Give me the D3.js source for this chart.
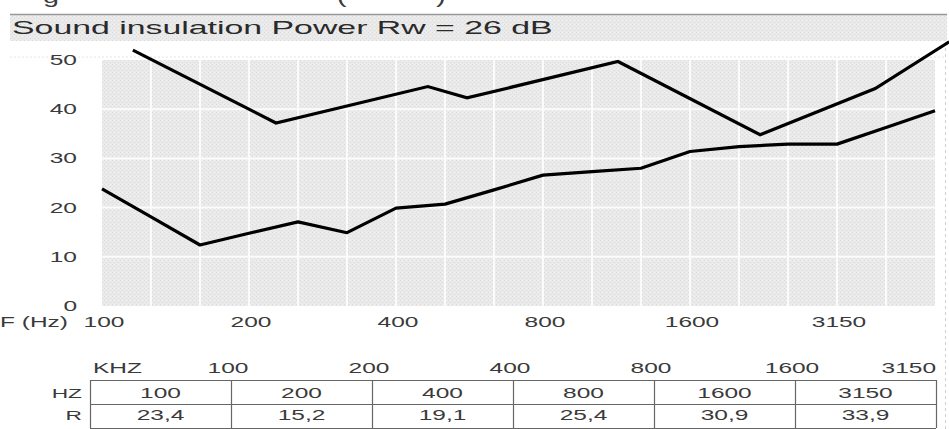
<!DOCTYPE html>
<html>
<head>
<meta charset="utf-8">
<script src="https://cdn.jsdelivr.net/npm/d3@7"></script>
<style>
  body { margin: 0; background: #fff; }
  text { font-family: "Liberation Sans", Arial, sans-serif; fill: #3a3a3a; }
</style>
</head>
<body>
<div id="chart"></div>
<script>
// third-octave bands, measured curve
const bands = [100, 125, 160, 200, 250, 315, 400, 500, 630, 800, 1000, 1250, 1600, 2000, 2500, 3150, 4000, 5000];
const measured = [23.8, 18.1, 12.4, 14.8, 17.1, 14.9, 19.9, 20.7, 23.6, 26.6, 27.3, 28.0, 31.4, 32.4, 32.9, 32.9, 36.3, 39.7];

// overlay curve (position in band steps, dB)
const upperPos = [0.63, 3.55, 6.65, 7.45, 10.53, 13.43, 15.78, 17.29];
const upperVal = [52.0, 37.2, 44.6, 42.3, 49.7, 34.8, 44.2, 53.7];

const yTicks = [0, 10, 20, 30, 40, 50];
const xTickLabels = ["100", "200", "400", "800", "1600", "3150"];

// table below the chart
const tableHead = ["100", "200", "400", "800", "1600", "3150"];
const tableHz = ["100", "200", "400", "800", "1600", "3150"];
const tableR = ["23,4", "15,2", "19,1", "25,4", "30,9", "33,9"];

const title = "Sound insulation Power Rw = 26 dB";

const width = 949, height = 429;
const svg = d3.select("#chart").append("svg")
  .attr("width", width)
  .attr("height", height);

// stippled grey fill
const defs = svg.append("defs");
const pat = defs.append("pattern")
  .attr("id", "stip")
  .attr("width", 4).attr("height", 4)
  .attr("patternUnits", "userSpaceOnUse");
pat.append("rect").attr("width", 4).attr("height", 4).attr("fill", "#eaeaea");
pat.append("rect").attr("x", 0).attr("y", 0).attr("width", 1).attr("height", 1).attr("fill", "#dbdbdb");
pat.append("rect").attr("x", 2).attr("y", 2).attr("width", 1).attr("height", 1).attr("fill", "#dbdbdb");
pat.append("rect").attr("x", 2).attr("y", 0).attr("width", 1).attr("height", 1).attr("fill", "#f2f2f2");

// stretched text helper (the source is squashed wide)
function label(x, y, txt, anchor, size, sx) {
  return svg.append("text")
    .attr("transform", `translate(${x},${y}) scale(${sx},1)`)
    .attr("text-anchor", anchor)
    .style("font-size", size + "px")
    .text(txt);
}

// cut-off line at top of image (only descenders visible in the source)
label(43, 3, "g", "start", 18, 1.6);
label(337, 3, "(", "start", 18, 1.6);
label(436, 3, ")", "start", 18, 1.6);

// title bar
svg.append("rect")
  .attr("x", 10).attr("y", 14)
  .attr("width", 937).attr("height", 27)
  .attr("fill", "url(#stip)");
svg.append("line")
  .attr("x1", 10).attr("x2", 947)
  .attr("y1", 14.5).attr("y2", 14.5)
  .style("stroke", "#999").style("stroke-width", 1.5);
label(12, 34, title, "start", 18, 1.88).style("fill", "#2a2a2a");

// faint dotted guides
svg.append("line")
  .attr("x1", 10).attr("x2", 945).attr("y1", 57).attr("y2", 57)
  .style("stroke", "#e4e4e4").style("stroke-dasharray", "2,2");
svg.append("line")
  .attr("x1", 945.5).attr("x2", 945.5).attr("y1", 42).attr("y2", height)
  .style("stroke", "#cfcfcf").style("stroke-dasharray", "3,3");

// scales
const x = d3.scaleLinear().domain([0, bands.length - 1]).range([102, 935]);
const y = d3.scaleLinear().domain([0, 50]).range([306, 60]);

// plot background
svg.append("rect")
  .attr("x", x(0)).attr("y", y(50))
  .attr("width", x(bands.length - 1) - x(0))
  .attr("height", y(0) - y(50))
  .attr("fill", "url(#stip)");

// grid
svg.append("g").selectAll("line")
  .data(bands.slice(1, -1))
  .join("line")
  .attr("x1", (d, i) => x(i + 1)).attr("x2", (d, i) => x(i + 1))
  .attr("y1", y(50)).attr("y2", y(0))
  .style("stroke", "#fbfbfb").style("stroke-width", 2);

svg.append("g").selectAll("line")
  .data(yTicks.slice(1, -1))
  .join("line")
  .attr("x1", x(0)).attr("x2", x(bands.length - 1))
  .attr("y1", d => y(d)).attr("y2", d => y(d))
  .style("stroke", "#fbfbfb").style("stroke-width", 2);

// y labels
yTicks.forEach(t => {
  label(77, y(t) + 5, String(t), "end", 14, 1.75);
});

// x labels
label(0, 327, "F (Hz)", "start", 14, 1.75);
xTickLabels.forEach((t, i) => {
  label(x(i * 3) + 2, 327, t, "middle", 14, 1.75);
});

// curves
const line = d3.line()
  .x(d => x(d[0]))
  .y(d => y(d[1]));

svg.append("path")
  .datum(measured.map((v, i) => [i, v]))
  .attr("d", line)
  .style("fill", "none")
  .style("stroke", "#000")
  .style("stroke-width", 3.2)
  .style("stroke-linejoin", "round");

svg.append("path")
  .datum(upperVal.map((v, i) => [upperPos[i], v]))
  .attr("d", line)
  .style("fill", "none")
  .style("stroke", "#000")
  .style("stroke-width", 3.2);

// table
const col = d3.scaleLinear().domain([0, tableHz.length]).range([90, 936]);
const rowTop = 380, rowMid = 404, rowBot = 428;

label(93, 373, "KHZ", "start", 14, 1.75);
tableHead.forEach((t, i) => {
  if (i < tableHead.length - 1) label(col(i + 1) - 3, 373, t, "middle", 14, 1.75);
  else label(col(i + 1), 373, t, "end", 14, 1.75);
});

const tg = svg.append("g").style("stroke", "#666").style("stroke-width", 1.2);
[rowTop, rowMid, rowBot].forEach(yy => {
  tg.append("line").attr("x1", col(0)).attr("x2", col(tableHz.length))
    .attr("y1", yy + 0.5).attr("y2", yy + 0.5);
});
d3.range(tableHz.length + 1).forEach(i => {
  tg.append("line").attr("x1", col(i) + 0.5).attr("x2", col(i) + 0.5)
    .attr("y1", rowTop).attr("y2", rowBot);
});

label(82, 398, "HZ", "end", 13, 1.75);
label(82, 420, "R", "end", 13, 1.75);
tableHz.forEach((t, i) => {
  label((col(i) + col(i + 1)) / 2, 398, t, "middle", 14, 1.75);
});
tableR.forEach((t, i) => {
  label((col(i) + col(i + 1)) / 2, 420, t, "middle", 14, 1.75);
});
</script>
</body>
</html>
